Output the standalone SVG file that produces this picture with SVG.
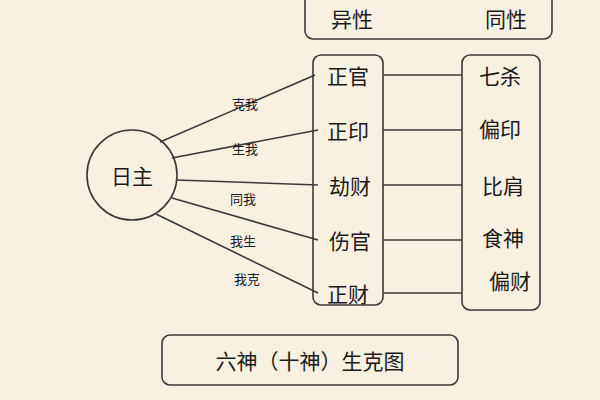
<svg xmlns="http://www.w3.org/2000/svg" width="600" height="400" viewBox="0 0 600 400">
<style>
.b{fill:none;stroke:#3a3a3a;stroke-width:1.6}
.t{font-family:"Noto Sans CJK SC",sans-serif;fill:#1a1a1a;font-size:21px;text-anchor:middle;dominant-baseline:central}
.s{font-family:"Noto Sans CJK SC",sans-serif;fill:#1a1a1a;font-size:13px;text-anchor:middle;dominant-baseline:central}
</style>
<rect width="600" height="400" fill="#f8f1e2"/>
<g id="connectors" class="b">
<line x1="160" y1="142" x2="315" y2="75"/>
<line x1="172" y1="158" x2="318" y2="130"/>
<line x1="177" y1="180" x2="318" y2="185"/>
<line x1="172" y1="198" x2="318" y2="240"/>
<line x1="156" y1="214" x2="318" y2="293"/>
<line x1="383" y1="75" x2="462" y2="75"/>
<line x1="383" y1="130" x2="462" y2="130"/>
<line x1="383" y1="185" x2="462" y2="185"/>
<line x1="383" y1="240" x2="462" y2="240"/>
<line x1="383" y1="293" x2="462" y2="293"/>
</g>
<g id="edge-labels">
<text class="s" x="245" y="103">克我</text>
<text class="s" x="245" y="148">生我</text>
<text class="s" x="243" y="198">同我</text>
<text class="s" x="243" y="240">我生</text>
<text class="s" x="247" y="278">我克</text>
</g>
<g id="header"><rect class="b" x="305" y="-8" width="247" height="47" rx="8"/>
<text class="t" x="352" y="18">异性</text><text class="t" x="506" y="18">同性</text></g>
<g id="rizhu"><circle class="b" cx="132" cy="175" r="45"/><text class="t" x="132" y="175">日主</text></g>
<g id="left"><rect class="b" x="313" y="55" width="70" height="250" rx="8"/>
<text class="t" x="348" y="75">正官</text><text class="t" x="348" y="130">正印</text><text class="t" x="350" y="185">劫财</text><text class="t" x="350" y="240">伤官</text><text class="t" x="348" y="293">正财</text></g>
<g id="right"><rect class="b" x="462" y="55" width="78" height="255" rx="8"/>
<text class="t" x="500" y="75">七杀</text><text class="t" x="500" y="128">偏印</text><text class="t" x="503" y="185">比肩</text><text class="t" x="503" y="237">食神</text><text class="t" x="510" y="280">偏财</text></g>
<g id="title"><rect class="b" x="162" y="335" width="296" height="50" rx="8"/>
<text class="t" x="310" y="360" font-size="20">六神（十神）生克图</text></g>
</svg>
